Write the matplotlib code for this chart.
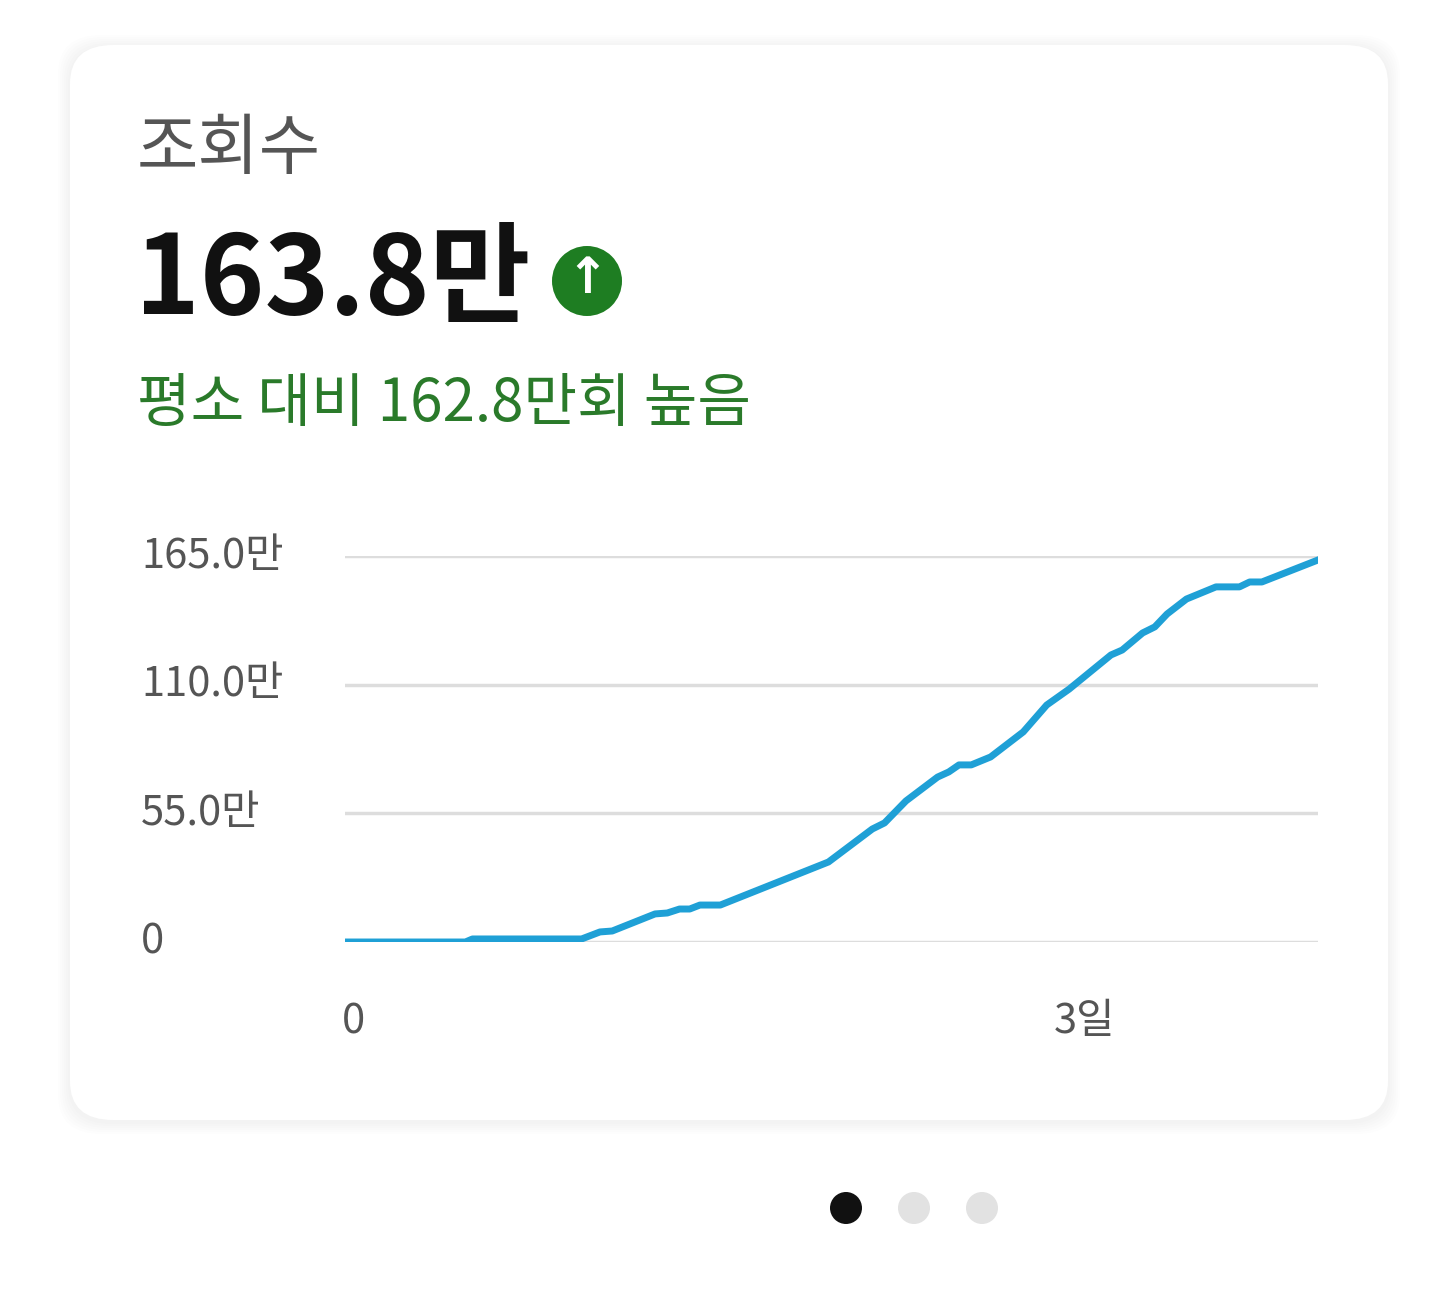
import matplotlib
matplotlib.use("Agg")
import matplotlib.pyplot as plt
from matplotlib.patches import FancyBboxPatch, Ellipse

plt.rcParams['font.family'] = ['Noto Sans CJK KR', 'DejaVu Sans']

# hours since upload vs cumulative views (in 만)
hours = [0, 11.8, 12.5, 23.2, 25, 26.2, 30.4, 31.6, 32.8, 33.8, 34.8, 36.8, 47.4,
         51.7, 52.9, 55, 58.1, 59.2, 60.2, 61.4, 63.3, 66.5, 68.8, 71, 75.1, 76.2,
         78.2, 79.4, 80.6, 82.5, 85.4, 87.7, 88.7, 89.9, 95.4]
views = [0, 0, 1.3, 1.3, 4.3, 4.7, 12, 12.4, 14.1, 14.1, 15.8, 15.8, 34.2,
         48.3, 50.9, 60.3, 70.5, 72.7, 75.7, 75.7, 79.1, 89.8, 101.3, 108.1, 122.7, 124.8,
         132.1, 134.7, 140.2, 146.6, 151.8, 151.8, 153.9, 153.9, 163.3]
y_ticks = [0, 55, 110, 165]
y_labels = ["0", "55.0만", "110.0만", "165.0만"]
x_ticks = [0, 72]
x_labels = ["0", "3일"]

W, H = 1440, 1293
fig = plt.figure(figsize=(W / 100, H / 100), dpi=100)
fig.patch.set_facecolor("white")

def fx(px):
    return px / W

def fy(py):
    return 1 - py / H

def dot(px, py, r, c, z=3):
    fig.patches.append(Ellipse((fx(px), fy(py)), 2 * r / W, 2 * r / H, transform=fig.transFigure,
                               facecolor=c, edgecolor="none", zorder=z))

# card with soft shadow
for i in range(6):
    d = 2 + i * 2
    fig.patches.append(FancyBboxPatch((fx(70 - d), fy(1122 + d)), fx(1318 + 2 * d), (1075 + 2 * d) / H,
                                      boxstyle="round,pad=0,rounding_size=0.03",
                                      transform=fig.transFigure, facecolor="black", alpha=0.006,
                                      edgecolor="none", zorder=0))
fig.patches.append(FancyBboxPatch((fx(70), fy(1120)), fx(1318), 1075 / H,
                                  boxstyle="round,pad=0,rounding_size=0.03",
                                  transform=fig.transFigure, facecolor="white",
                                  edgecolor="none", zorder=1))

fig.text(fx(137), fy(150), "조회수", fontsize=48, color="#555555", va="center", ha="left")
fig.text(fx(135), fy(282), "163.8만", fontsize=79, fontweight="bold", color="#111111",
         va="center", ha="left")
dot(587, 281, 35, "#1e7d22")
fig.text(fx(587), fy(279), "↑", fontsize=36, fontweight="bold", color="white",
         ha="center", va="center", family="DejaVu Sans", zorder=4)
fig.text(fx(137), fy(405), "평소 대비 162.8만회 높음", fontsize=42, color="#2a7a2a",
         va="center", ha="left")

ax = fig.add_axes([fx(345), fy(942), fx(1318 - 345), (942 - 556) / H], zorder=5)
ax.set_facecolor("none")
ax.plot(hours, views, color="#1fa0d6", linewidth=5, solid_joinstyle="round", zorder=3)
ax.set_xlim(0, 95.4)
ax.set_ylim(0, 165)
for v in y_ticks:
    ax.axhline(v, color="#dddddd", linewidth=2.5, zorder=1)
ax.set_yticks([])
ax.set_xticks([])
for s in ax.spines.values():
    s.set_visible(False)
for v, lab in zip(y_ticks, y_labels):
    ax.text(-20.0, v, lab, fontsize=30, color="#555555", ha="left", va="center",
            clip_on=False)
for v, lab in zip(x_ticks, x_labels):
    ax.text(v + (0.8 if v == 0 else 0.5), -34, lab, fontsize=30, color="#555555", ha="center",
            va="center", clip_on=False)

# page indicator dots
for px, c in [(846, "#111111"), (914, "#e2e2e2"), (982, "#e2e2e2")]:
    dot(px, 1208, 16, c)

fig.savefig("out.png", dpi=100)
